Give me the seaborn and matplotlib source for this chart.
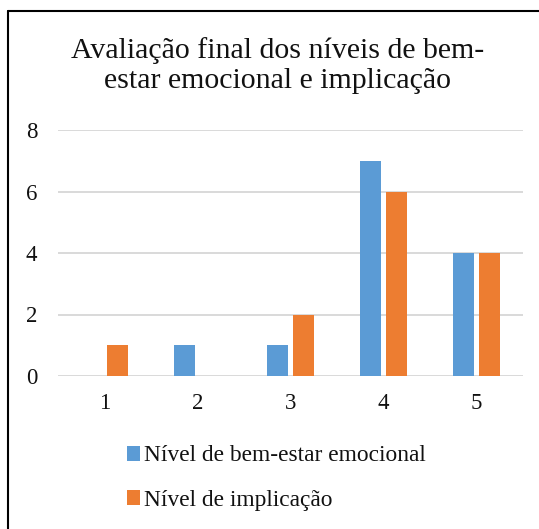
import matplotlib
matplotlib.use("Agg")
import matplotlib.pyplot as plt
from matplotlib.lines import Line2D
import pandas as pd
import seaborn as sns

# data
niveis = ["1", "2", "3", "4", "5"]
bem_estar = [0, 1, 1, 7, 4]
implicacao = [1, 0, 2, 6, 4]
series_names = ["Nível de bem-estar emocional", "Nível de implicação"]
colors = ["#5B9BD5", "#ED7D31"]
title = "Avaliação final dos níveis de bem-\nestar emocional e implicação"

df = pd.DataFrame({
    "nivel": niveis * 2,
    "valor": bem_estar + implicacao,
    "serie": [series_names[0]] * len(niveis) + [series_names[1]] * len(niveis),
})

sns.set_theme(style="white")
plt.rcParams["font.family"] = ["Liberation Serif", "DejaVu Serif"]

W, H = 539, 529
fig = plt.figure(figsize=(W / 100, H / 100), dpi=100)
ax = fig.add_axes([58 / W, 1 - 376 / H, (523 - 58) / W, (376 - 130) / H])

sns.barplot(data=df, x="nivel", y="valor", hue="serie", palette=colors,
            width=0.56, gap=0.19, saturation=1, linewidth=0, ax=ax, legend=True)

ax.set_ylim(0, 8)
ax.set_yticks([0, 2, 4, 6, 8])
ax.yaxis.grid(True, color="#D9D9D9", linewidth=1.4)
ax.set_axisbelow(True)
for s in ax.spines.values():
    s.set_visible(False)
ax.set_xlabel("")
ax.set_ylabel("")
ax.tick_params(axis="x", length=0, pad=12, labelsize=16.5, labelcolor="#111111")
ax.tick_params(axis="y", length=0, pad=15, labelsize=16.5, labelcolor="#111111")

handles, labels = ax.get_legend_handles_labels()
ax.legend(handles, labels, loc="center left", bbox_to_anchor=(127 / W, 1 - 478 / H),
          bbox_transform=fig.transFigure, frameon=False, fontsize=16.8,
          borderpad=0, borderaxespad=0, handlelength=0.55, handleheight=0.6,
          handletextpad=0.2, labelspacing=1.0, labelcolor="#111111")

fig.text(278 / W, 1 - 37 / H, title, ha="center", va="top", fontsize=21.5,
         color="#111111", linespacing=1.22)

# chart frame (only left and top edges visible in the crop)
fig.add_artist(Line2D([8 / W, 8 / W], [0, 1 - 11 / H], transform=fig.transFigure,
                      color="black", linewidth=1.5))
fig.add_artist(Line2D([8 / W, 1], [1 - 11 / H, 1 - 11 / H], transform=fig.transFigure,
                      color="black", linewidth=1.5))

fig.savefig("out.png", dpi=100)
